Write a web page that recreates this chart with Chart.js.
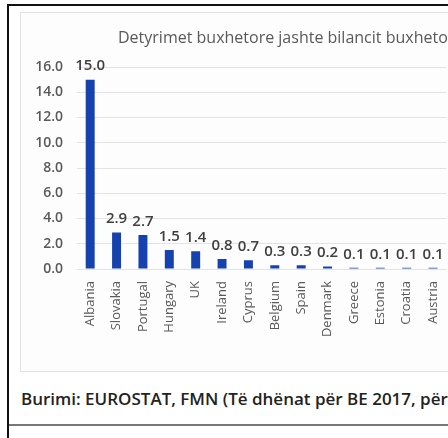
<!DOCTYPE html>
<html>
<head>
<meta charset="utf-8">
<script src="https://cdn.jsdelivr.net/npm/chart.js@4"></script>
<style>
  html, body { margin: 0; padding: 0; background: #fff; }
  body { width: 448px; height: 438px; overflow: hidden; position: relative; font-family: "Open Sans", sans-serif; }
  .frameLeft { position: absolute; left: 7px; top: 4px; width: 2px; height: 434px; background: #111; }
  .frameTop { position: absolute; left: 7px; top: 4px; width: 441px; height: 2px; background: #111; }
  .frameBottom { position: absolute; left: 9px; top: 424px; width: 439px; height: 2px; background: #777; }
  .box { position: absolute; left: 20px; top: 12px; width: 480px; height: 358px; border: 1px solid #e2e2e2; background: #fdfdfd; }
  .title { position: absolute; left: 118px; top: 26px; white-space: nowrap; font-size: 16px; color: #595959; }
  .source { position: absolute; left: 21px; top: 387px; white-space: nowrap; font-size: 17px; font-weight: 600; color: #222; }
  canvas { position: absolute; left: 21px; top: 13px; }
</style>
</head>
<body>
<div class="frameLeft"></div>
<div class="frameTop"></div>
<div class="frameBottom"></div>
<div class="box"></div>
<canvas id="chart" width="440" height="357"></canvas>
<div class="title">Detyrimet buxhetore jashte bilancit buxhetor</div>
<div class="source">Burimi: EUROSTAT, FMN (Të dhënat për BE 2017, për</div>
<script>
    // values (% of GDP)
    const countries = ["Albania", "Slovakia", "Portugal", "Hungary", "UK", "Ireland", "Cyprus",
        "Belgium", "Spain", "Denmark", "Greece", "Estonia", "Croatia", "Austria"];
    const values = [15.0, 2.9, 2.7, 1.5, 1.4, 0.8, 0.7, 0.3, 0.3, 0.2, 0.1, 0.1, 0.1, 0.1];
    const yTicks = [0, 2, 4, 6, 8, 10, 12, 14, 16];

    // numbers above the bars
    const barLabels = {
        id: "barLabels",
        afterDatasetsDraw(chart) {
            const ctx = chart.ctx;
            const meta = chart.getDatasetMeta(0);
            ctx.save();
            ctx.font = "600 15px 'Open Sans'";
            ctx.fillStyle = "#404040";
            ctx.textAlign = "center";
            ctx.textBaseline = "bottom";
            meta.data.forEach((bar, i) => {
                ctx.fillText(values[i].toFixed(1), bar.x, bar.y - 6);
            });
            ctx.restore();
        }
    };

    const context = document.getElementById("chart").getContext("2d");

    new Chart(context, {
        type: "bar",
        data: {
            labels: countries,
            datasets: [
                {
                    data: values,
                    backgroundColor: "#1642b0",
                    barPercentage: 0.34,
                    categoryPercentage: 1
                }
            ]
        },
        options: {
            responsive: false,
            animation: false,
            layout: {
                padding: { top: 54, right: 10, left: 0, bottom: 0 }
            },
            scales: {
                x: {
                    grid: { display: false, drawTicks: false },
                    border: { display: false },
                    ticks: {
                        autoSkip: false,
                        minRotation: 90,
                        maxRotation: 90,
                        padding: 12,
                        color: "#595959",
                        font: { family: "'Open Sans'", size: 13 }
                    },
                    afterFit(scale) { scale.height = 101; }
                },
                y: {
                    min: 0,
                    max: 16,
                    afterBuildTicks(scale) { scale.ticks = yTicks.map(v => ({ value: v })); },
                    grid: { color: "#e3e3e3", drawTicks: false },
                    border: { display: false },
                    ticks: {
                        padding: 14,
                        color: "#595959",
                        font: { family: "'Open Sans'", size: 14, weight: "600" },
                        callback: v => v.toFixed(1)
                    },
                    afterFit(scale) { scale.width = 56; }
                }
            },
            plugins: {
                legend: { display: false },
                tooltip: { enabled: false }
            }
        },
        plugins: [barLabels]
    });
</script>
</body>
</html>
